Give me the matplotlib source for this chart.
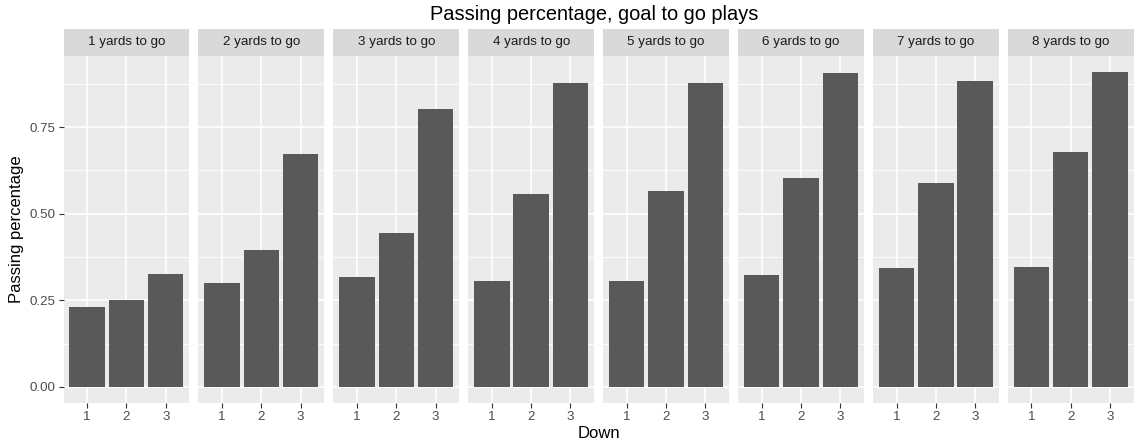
import matplotlib
matplotlib.use("Agg")
import matplotlib.pyplot as plt

plt.rcParams['font.family'] = ['Liberation Sans', 'DejaVu Sans']

facets = ["1 yards to go", "2 yards to go", "3 yards to go", "4 yards to go",
          "5 yards to go", "6 yards to go", "7 yards to go", "8 yards to go"]
downs = [1, 2, 3]
pass_pct = [
    [0.231, 0.251, 0.327],
    [0.301, 0.394, 0.673],
    [0.316, 0.445, 0.802],
    [0.307, 0.556, 0.878],
    [0.307, 0.567, 0.878],
    [0.324, 0.603, 0.907],
    [0.342, 0.588, 0.884],
    [0.347, 0.678, 0.910],
]
y_ticks = [0.00, 0.25, 0.50, 0.75]
y_minor = [0.125, 0.375, 0.625, 0.875]
title = "Passing percentage, goal to go plays"
xlabel = "Down"
ylabel = "Passing percentage"

W, H = 1140, 447
fig = plt.figure(figsize=(W / 100, H / 100), dpi=100)

left0 = 63.5
pw = 125.9
gap = 9.0
ptop = 56.0
pbot = 402.7
stop = 29.0

ymax_data = max(max(r) for r in pass_pct)
ylo = -0.05 * ymax_data
yhi = ymax_data * 1.05

for i, (name, vals) in enumerate(zip(facets, pass_pct)):
    x0 = left0 + i * (pw + gap)
    ax = fig.add_axes([x0 / W, (H - pbot) / H, pw / W, (pbot - ptop) / H])
    ax.set_facecolor('#EBEBEB')
    for s in ax.spines.values():
        s.set_visible(False)
    ax.set_xlim(0.4, 3.6)
    ax.set_ylim(ylo, yhi)
    for m in y_minor:
        ax.axhline(m, color='white', lw=0.6, zorder=0)
    for t in y_ticks:
        ax.axhline(t, color='white', lw=1.2, zorder=0)
    for d in downs:
        ax.axvline(d, color='white', lw=1.2, zorder=0)
    ax.bar(downs, vals, width=0.9, color='#595959', zorder=2)
    ax.set_xticks(downs)
    ax.set_xticklabels([str(d) for d in downs])
    ax.set_yticks(y_ticks)
    if i == 0:
        ax.set_yticklabels([f"{t:.2f}" for t in y_ticks])
        ax.tick_params(axis='y', length=3.5, width=0.8, color='#333333',
                       labelcolor='#4D4D4D', labelsize=9.6, pad=2)
    else:
        ax.tick_params(axis='y', length=0, labelleft=False)
    ax.tick_params(axis='x', length=3.5, width=0.8, color='#333333',
                   labelcolor='#4D4D4D', labelsize=9.6, pad=2.5)
    # strip
    sax = fig.add_axes([x0 / W, (H - ptop) / H, pw / W, (ptop - stop) / H])
    sax.set_facecolor('#D9D9D9')
    for s in sax.spines.values():
        s.set_visible(False)
    sax.set_xticks([])
    sax.set_yticks([])
    sax.text(0.5, 0.5, name, ha='center', va='center', fontsize=9.6,
             color='#1A1A1A', transform=sax.transAxes)

cx = (left0 + left0 + 8 * pw + 7 * gap) / 2
fig.text(594 / W, 1 - 14 / H, title, ha='center', va='center', fontsize=14.4)
fig.text(cx / W, 1 - 434 / H, xlabel, ha='center', va='center', fontsize=12)
fig.text(17 / W, 1 - 229 / H, ylabel, ha='center', va='center', rotation=90, fontsize=12)

fig.savefig('out.png', dpi=100)
